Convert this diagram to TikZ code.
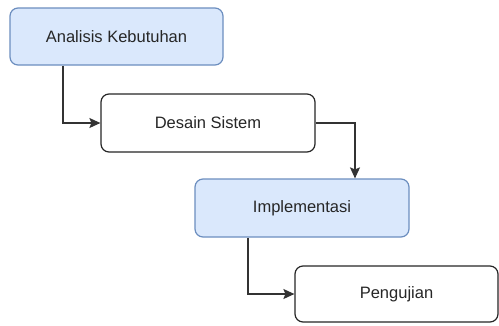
\documentclass[tikz,border=0pt]{standalone}
\usepackage{fontspec}
\setmainfont{Liberation Sans}
\usetikzlibrary{arrows.meta}
\definecolor{phasefill}{HTML}{DAE8FC}
\definecolor{phaseline}{HTML}{6C8EBF}
\definecolor{wireline}{HTML}{333333}
\tikzset{
  stage/.style={draw, rounded corners=8pt, line width=1.2pt, align=center,
    font=\fontsize{16.5}{19}\selectfont, text=black!85},
  bluestage/.style={stage, draw=phaseline, fill=phasefill},
  whitestage/.style={stage, draw=black!85, fill=white},
  link/.style={draw=wireline, line width=1.3pt,
    -{Stealth[length=11pt,width=10pt,inset=2pt]}},
}
\begin{document}
\begin{tikzpicture}[x=1pt,y=-1pt]
  \useasboundingbox (0,0) rectangle (499,325);
  \node[bluestage, minimum width=213pt, minimum height=57pt] (ak) at (116.5,36.5) {Analisis Kebutuhan};
  \node[whitestage, minimum width=214pt, minimum height=58pt] (ds) at (208,123) {Desain Sistem};
  \node[bluestage, minimum width=214pt, minimum height=58pt] (im) at (302,208) {Implementasi};
  \node[whitestage, minimum width=203pt, minimum height=56pt] (pg) at (396.5,294) {Pengujian};
  \draw[link] (ak.south -| 63,0) |- (ds.west);
  \draw[link] (ds.east) -| (ds.east -| 355,0) -- (im.north -| 355,0);
  \draw[link] (im.south -| 248,0) |- (pg.west);
\end{tikzpicture}
\end{document}
